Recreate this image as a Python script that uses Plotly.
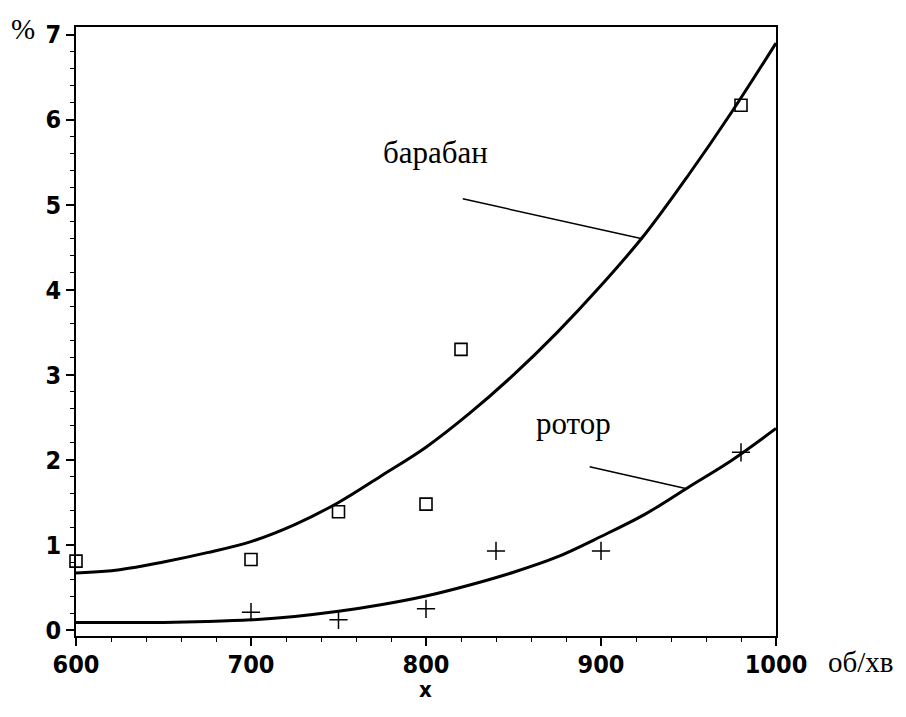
import plotly.graph_objects as go

# Fitted curves
curve_x = [600, 625, 650, 675, 700, 725, 750, 775, 800, 825, 850, 875, 900, 925, 950, 975, 1000]
baraban_curve = [0.67, 0.71, 0.80, 0.91, 1.04, 1.24, 1.50, 1.82, 2.15, 2.55, 3.00, 3.50, 4.05, 4.65, 5.35, 6.10, 6.90]
rotor_curve = [0.09, 0.09, 0.09, 0.10, 0.12, 0.16, 0.22, 0.30, 0.40, 0.53, 0.68, 0.86, 1.10, 1.36, 1.68, 2.00, 2.37]

# Observed points
baraban_x = [600, 700, 750, 800, 820, 980]
baraban_y = [0.81, 0.83, 1.39, 1.48, 3.30, 6.17]
rotor_x = [700, 750, 800, 840, 900, 980]
rotor_y = [0.21, 0.12, 0.25, 0.93, 0.93, 2.09]

# Axis ticks
x_ticks = [600, 700, 800, 900, 1000]
y_ticks = [0, 1, 2, 3, 4, 5, 6, 7]

# Curve labels and their leader lines (data coordinates)
label_text = ["барабан", "ротор"]
label_pos = [(805.5, 5.62), (884.5, 2.43)]
leader_lines = [((821, 5.07), (923.5, 4.60)), ((893.5, 1.92), (949, 1.66))]

tick_font = dict(family="Liberation Sans Narrow, DejaVu Sans Condensed, Arial Narrow, sans-serif",
                 size=25, color="black", weight="bold")
serif = "Liberation Serif, Times New Roman, serif"

fig = go.Figure()
fig.add_trace(go.Scatter(x=curve_x, y=baraban_curve, mode="lines",
                         line=dict(color="black", width=3, shape="spline"), showlegend=False))
fig.add_trace(go.Scatter(x=curve_x, y=rotor_curve, mode="lines",
                         line=dict(color="black", width=3, shape="spline"), showlegend=False))
fig.add_trace(go.Scatter(x=baraban_x, y=baraban_y, mode="markers", cliponaxis=False,
                         marker=dict(symbol="square-open", size=12, color="black", line=dict(width=1.6)),
                         showlegend=False))
fig.add_trace(go.Scatter(x=rotor_x, y=rotor_y, mode="markers", cliponaxis=False,
                         marker=dict(symbol="cross-thin-open", size=13, color="black", line=dict(width=1.5)),
                         showlegend=False))

for (p0, p1) in leader_lines:
    fig.add_shape(type="line", x0=p0[0], y0=p0[1], x1=p1[0], y1=p1[1],
                  xref="x", yref="y", line=dict(color="black", width=1.5))
for txt, (lx, ly) in zip(label_text, label_pos):
    fig.add_annotation(x=lx, y=ly, xref="x", yref="y", text=txt, showarrow=False,
                       xanchor="center", yanchor="middle",
                       font=dict(family=serif, size=31, color="black"))

fig.add_annotation(x=-0.0757, y=0.997, xref="paper", yref="paper", text="%", showarrow=False,
                   xanchor="center", yanchor="middle",
                   font=dict(family=serif, size=29, color="black"))
fig.add_annotation(x=1.121, y=-0.042, xref="paper", yref="paper", text="об/хв", showarrow=False,
                   xanchor="center", yanchor="middle",
                   font=dict(family=serif, size=29, color="black"))
fig.add_annotation(x=0.4986, y=-0.088, xref="paper", yref="paper", text="x", showarrow=False,
                   xanchor="center", yanchor="middle",
                   font=dict(family=tick_font["family"], size=22, color="black", weight="bold"))

fig.update_xaxes(range=[600, 1000], tickvals=x_ticks, ticks="outside", ticklen=8, tickwidth=1.5,
                 tickcolor="black", showline=True, linecolor="black", linewidth=1.5, mirror=True,
                 showgrid=False, zeroline=False, tickfont=tick_font, ticklabelstandoff=-3,
                 minor=dict(dtick=20, ticks="outside", ticklen=4, tickcolor="black", tickwidth=1.2))
fig.update_yaxes(range=[-0.07, 7.09], tickvals=y_ticks, ticks="outside", ticklen=8, tickwidth=1.5,
                 tickcolor="black", showline=True, linecolor="black", linewidth=1.5, mirror=True,
                 showgrid=False, zeroline=False, tickfont=tick_font,
                 minor=dict(dtick=0.2, ticks="outside", ticklen=4, tickcolor="black", tickwidth=1.2))

fig.update_layout(width=898, height=709, margin=dict(l=68, r=130, t=16, b=81),
                  plot_bgcolor="white", paper_bgcolor="white")
fig.write_html("out.html")
